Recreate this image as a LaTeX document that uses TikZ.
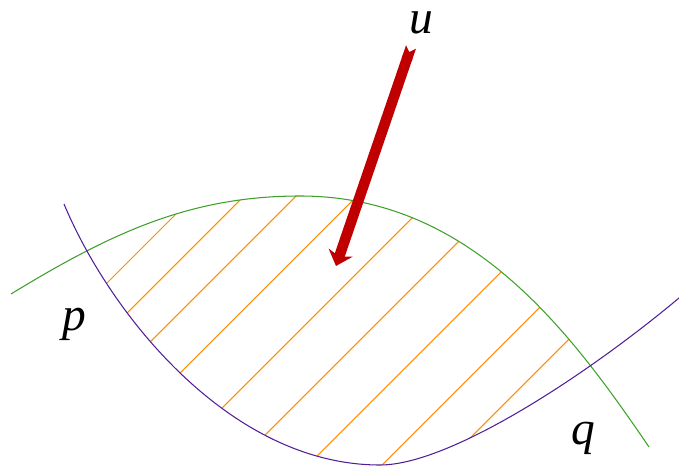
\documentclass[tikz,border=0pt]{standalone}
\usepackage{fontspec}
\setmainfont{Liberation Serif}
\usetikzlibrary{arrows.meta}

\definecolor{curvegreen}{RGB}{62,160,42}
\definecolor{curvepurple}{RGB}{80,30,150}
\definecolor{hatchorange}{RGB}{255,140,0}
\definecolor{arrowred}{RGB}{192,0,0}

\begin{document}
\begin{tikzpicture}[
    x=0.02cm,
    y=-0.02cm,
    font=\fontsize{27}{30}\selectfont\itshape,
    upper/.style={draw=curvegreen, line width=0.6pt},
    lower/.style={draw=curvepurple, line width=0.6pt},
    hatch/.style={draw=hatchorange, line width=0.6pt},
    force/.style={draw=arrowred, line width=0.21cm, {Triangle Cap[reversed]}-{Stealth[length=0.28cm, width=0.5cm, inset=0.08cm]}},
    lbl/.style={inner sep=0pt}
]
\useasboundingbox (0,0) rectangle (679,466);

% --- Puntos de las curvas ---
\coordinate (g0) at (11,294);
\coordinate (gtop) at (300,196);
\coordinate (g1) at (649,447);
\coordinate (v0) at (64,204);
\coordinate (vbot) at (380,465);
\coordinate (v1) at (679,298);

% --- Rayado entre las curvas ---
\begin{scope}
    \clip (g0) .. controls (111,233) and (190,196) .. (gtop)
        .. controls (470,196) and (570,331) .. (g1) -- (679,466) -- (0,466) -- cycle;
    \clip (v0) .. controls (110,314) and (230,465) .. (vbot)
        .. controls (450,465) and (587,375) .. (v1) -- (679,0) -- (64,0) -- cycle;
    \foreach \c in {390,440,492,553,630,700,773,847,908} {
        \draw[hatch] (\c-500,500) -- (\c,0);
    }
\end{scope}

% --- Curvas ---
\draw[upper] (g0) .. controls (111,233) and (190,196) .. (gtop)
    .. controls (470,196) and (570,331) .. (g1);
\draw[lower] (v0) .. controls (110,314) and (230,465) .. (vbot)
    .. controls (450,465) and (587,375) .. (v1);

% --- Flecha ---
\coordinate (tail) at (411,47);
\coordinate (tip)  at (336,266);
\draw[force] (tail) -- (tip);

% --- Etiquetas ---
\node[lbl] (u) at (421,23)  {u};
\node[lbl] (p) at (74,324)  {p};
\node[lbl] (q) at (583,438) {q};

\end{tikzpicture}
\end{document}
